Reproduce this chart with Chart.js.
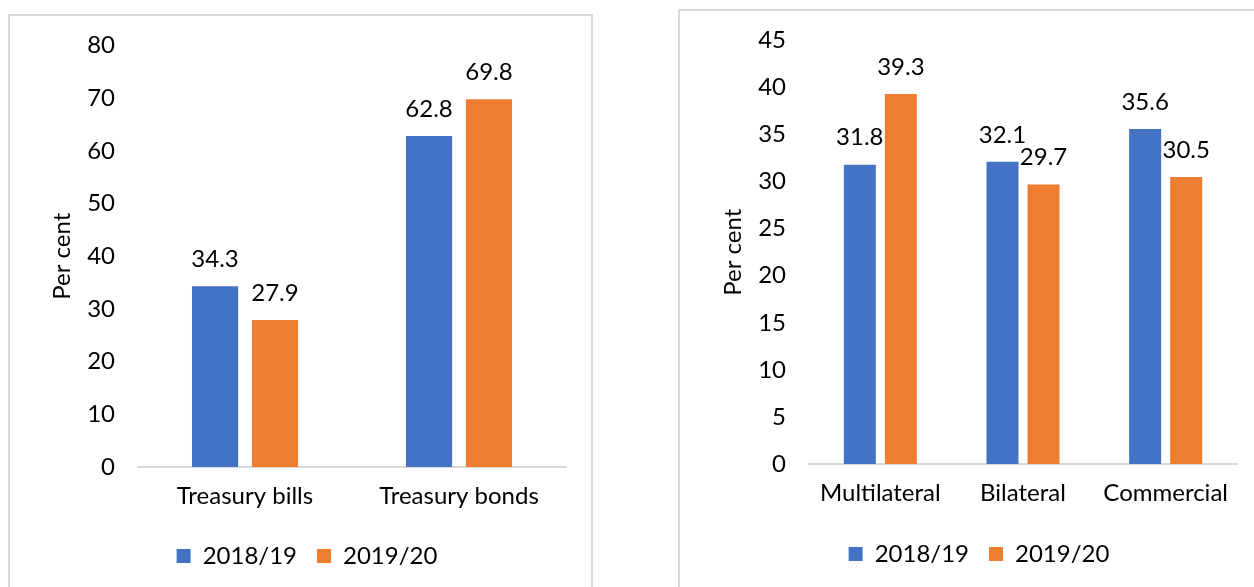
<!DOCTYPE html>
<html>
<head>
<meta charset="utf-8">
<script src="https://cdn.jsdelivr.net/npm/chart.js@4/dist/chart.umd.min.js"></script>
<style>
  body { margin: 0; background: #fff; width: 1254px; height: 587px; overflow: hidden; position: relative; }
  .frame { position: absolute; border: 2px solid #d9d9d9; box-sizing: border-box; }
  canvas { position: absolute; }
</style>
</head>
<body>
<div class="frame" style="left:8px; top:14px; width:585px; height:620px;"></div>
<div class="frame" style="left:678px; top:9px; width:620px; height:620px;"></div>
<canvas id="domChart" width="581" height="571" style="left:10px; top:16px;"></canvas>
<canvas id="extChart" width="574" height="576" style="left:680px; top:11px;"></canvas>
<script>
// data
var seriesNames = ['2018/19', '2019/20'];
var seriesColors = ['#4472C4', '#ED7D31'];

var domCategories = ['Treasury bills', 'Treasury bonds'];
var dom1819 = [34.3, 62.8];
var dom1920 = [27.9, 69.8];
var domMax = 80, domStep = 10;

var extCategories = ['Multilateral', 'Bilateral', 'Commercial'];
var ext1819 = [31.8, 32.1, 35.6];
var ext1920 = [39.3, 29.7, 30.5];
var extMax = 45, extStep = 5;

Chart.defaults.font.family = 'Lato, "Open Sans", sans-serif';
Chart.defaults.font.size = 24;
Chart.defaults.color = '#000';

// value labels above each bar
var barValues = {
    id: 'barValues',
    afterDatasetsDraw: function(chart) {
        var ctx = chart.ctx;
        ctx.save();
        ctx.font = '24px Lato, "Open Sans", sans-serif';
        ctx.fillStyle = '#000';
        ctx.textAlign = 'center';
        ctx.textBaseline = 'middle';
        chart.data.datasets.forEach(function(ds, i) {
            chart.getDatasetMeta(i).data.forEach(function(bar, j) {
                ctx.fillText(ds.data[j].toFixed(1), bar.x, bar.y - 27);
            });
        });
        ctx.restore();
    }
};

function make_chart(id, cats, a, b, max, step, o) {
    return new Chart(document.getElementById(id), {
        type: 'bar',
        data: {
            labels: cats,
            datasets: [
                { label: seriesNames[0], data: a, backgroundColor: seriesColors[0],
                  barPercentage: o.barPct, categoryPercentage: o.catPct },
                { label: seriesNames[1], data: b, backgroundColor: seriesColors[1],
                  barPercentage: o.barPct, categoryPercentage: o.catPct }
            ]
        },
        options: {
            responsive: false,
            animation: false,
            events: [],
            layout: { padding: { left: o.padL, right: o.padR, top: 21, bottom: o.padB } },
            plugins: {
                tooltip: { enabled: false },
                legend: {
                    position: 'bottom',
                    labels: { boxWidth: 14, boxHeight: 14, padding: 20, color: '#000' }
                }
            },
            scales: {
                x: {
                    grid: { display: true, drawOnChartArea: false, drawTicks: false },
                    border: { display: true, color: '#d9d9d9', width: 2 },
                    ticks: { padding: 15 },
                    afterFit: function(scale) { scale.height = o.xH; }
                },
                y: {
                    min: 0, max: max,
                    ticks: { stepSize: step, padding: 15 },
                    grid: { display: false },
                    border: { display: false },
                    title: { display: true, text: 'Per cent', font: { size: 24, lineHeight: 1 },
                             padding: { top: o.titlePad, bottom: 0 } },
                    afterFit: function(scale) { scale.width = o.yW; }
                }
            }
        },
        plugins: [barValues]
    });
}

make_chart('domChart', domCategories, dom1819, dom1920, domMax, domStep,
    { barPct: 0.77, catPct: 0.56, padL: 38, padR: 25, padB: 9, xH: 57, yW: 90, titlePad: 2 });

make_chart('extChart', extCategories, ext1819, ext1920, extMax, extStep,
    { barPct: 0.78, catPct: 0.575, padL: 41, padR: 17, padB: 11, xH: 58, yW: 88, titlePad: 0 });
</script>
</body>
</html>
